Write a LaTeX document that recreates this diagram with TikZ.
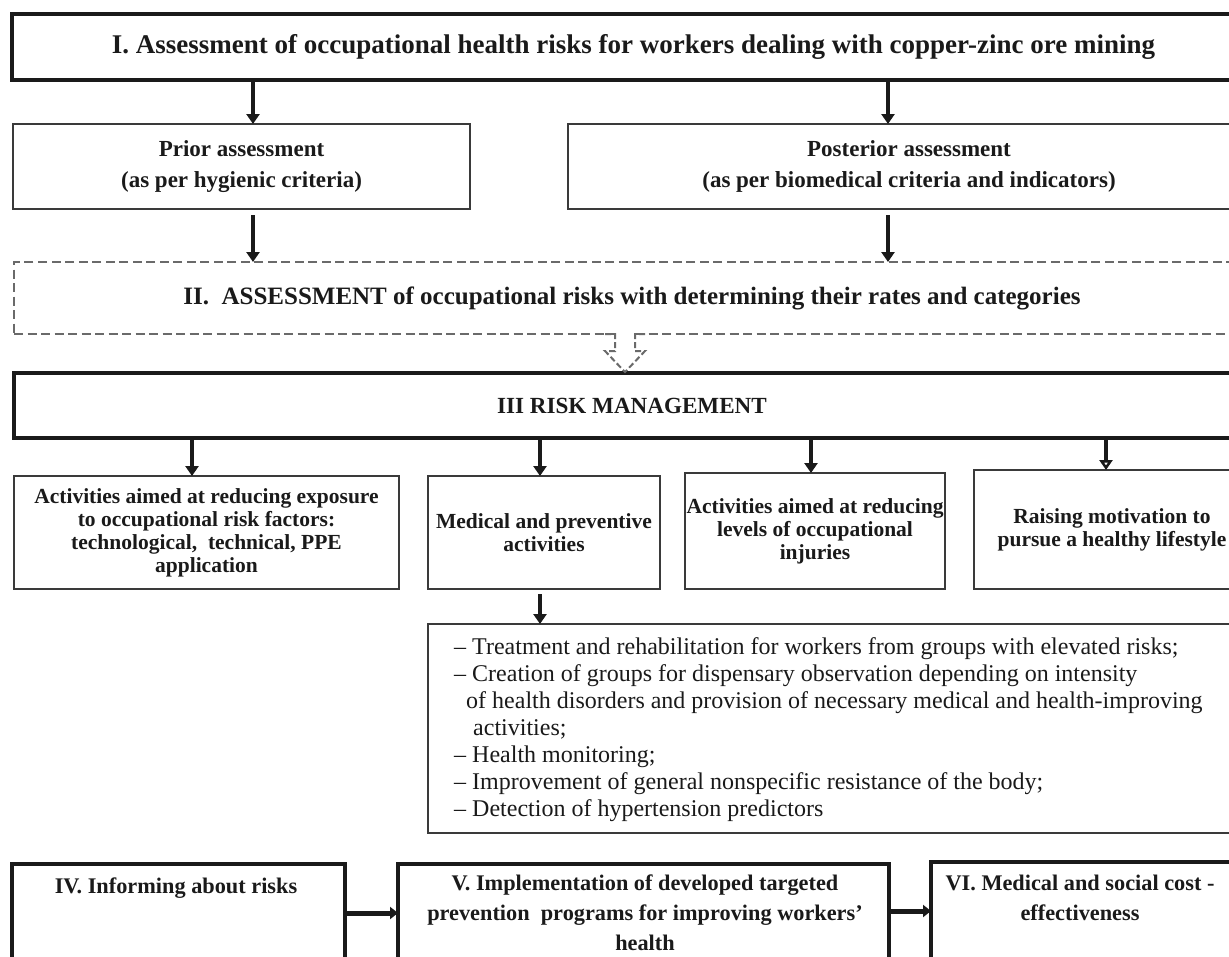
\documentclass[tikz,border=0pt]{standalone}
\usepackage{fontspec}
\setmainfont{Liberation Serif}
\usetikzlibrary{arrows.meta,calc}
\definecolor{ink}{HTML}{1A1A1A}
\definecolor{edge}{HTML}{3A3A3A}
\definecolor{dashc}{HTML}{6A6A6A}
\tikzset{
  heavy/.style={draw=ink, line width=3.6pt, fill=white, inner sep=0pt, outer sep=0pt, anchor=north west, align=center, text=ink},
  light/.style={draw=edge, line width=1.4pt, fill=white, inner sep=0pt, outer sep=0pt, anchor=north west, align=center, text=ink},
  dbox/.style={draw=dashc, line width=2pt, dash pattern=on 9pt off 4.5pt, fill=white, inner sep=0pt, outer sep=0pt, anchor=north west, align=center, text=ink},
  arr/.style={draw=ink, line width=3.2pt, -{Triangle[width=13pt,length=10pt]}},
  openarr/.style={draw=ink, line width=3.2pt, -{Triangle[open,width=13pt,length=10pt,fill=white]}},
  harr/.style={draw=ink, line width=5pt, -{Triangle[width=12pt,length=8pt]}},
  hollow/.style={draw=dashc, line width=2pt, dash pattern=on 6pt off 3pt, line join=miter},
  ftitle/.style={font=\bfseries\fontsize{27}{30}\selectfont},
  fsub/.style={font=\bfseries\fontsize{23}{31}\selectfont},
  fmid/.style={font=\bfseries\fontsize{25}{28}\selectfont},
  fman/.style={font=\bfseries\fontsize{23.1}{26}\selectfont},
  frow/.style={font=\bfseries\fontsize{21.5}{23}\selectfont},
  fbot/.style={font=\bfseries\fontsize{22.3}{30}\selectfont},
  flist/.style={font=\fontsize{24}{27}\selectfont},
}
\begin{document}
\begin{tikzpicture}[x=1pt,y=-1pt]
\useasboundingbox (0,0) rectangle (1229,956);
\clip (0,0) rectangle (1229,956);
\fill[white] (0,0) rectangle (1229,956);

% boxes
\node[heavy, ftitle, minimum width=1243pt, minimum height=66pt] (T) at (12,14)
  {I. Assessment of occupational health risks for workers dealing with copper-zinc ore mining};
\node[light, fsub, minimum width=457pt, minimum height=85pt] (P) at (13,124)
  {Prior assessment\\(as per hygienic criteria)};
\node[light, fsub, minimum width=682pt, minimum height=85pt] (Q) at (568,124)
  {Posterior assessment\\(as per biomedical criteria and indicators)};
\node[dbox, fmid, minimum width=1236pt, minimum height=72pt] (D) at (14,262)
  {II.\ \ ASSESSMENT of occupational risks with determining their rates and categories};
\node[heavy, fman, minimum width=1236pt, minimum height=65pt] (R) at (14,373)
  {III RISK MANAGEMENT};
\node[light, frow, minimum width=385pt, minimum height=113pt] (A) at (14,476)
  {Activities aimed at reducing exposure\\to occupational risk factors:\\technological,\ \ technical, PPE\\application};
\node[light, frow, minimum width=232pt, minimum height=113pt] (B) at (428,476)
  {Medical and preventive\\activities};
\node[light, frow, minimum width=260pt, minimum height=116pt] (C) at (685,473)
  {Activities aimed at reducing\\levels of occupational\\injuries};
\node[light, frow, minimum width=276pt, minimum height=119pt] (E) at (974,470)
  {Raising motivation to\\pursue a healthy lifestyle};
\node[light, minimum width=822pt, minimum height=209pt] (L) at (428,624) {};
\node[anchor=north west, inner sep=0pt, align=left, text=ink, flist] (Lt) at (454,637.5)
  {– Treatment and rehabilitation for workers from groups with elevated risks;\\
   – Creation of groups for dispensary observation depending on intensity\\
   \hspace*{12pt}of health disorders and provision of necessary medical and health-improving\\
   \hspace*{19pt}activities;\\
   – Health monitoring;\\
   – Improvement of general nonspecific resistance of the body;\\
   – Detection of hypertension predictors};
\node[heavy, minimum width=333pt, minimum height=136pt] (IV) at (12,864) {};
\node[heavy, minimum width=491pt, minimum height=136pt] (V) at (398,864) {};
\node[heavy, minimum width=319pt, minimum height=138pt] (VI) at (931,862) {};
\node[fbot, text=ink, align=center] (IVt) at (176,888) {IV. Informing about risks};
\node[fbot, text=ink, align=center] (Vt) at (645,913)
  {V. Implementation of developed targeted\\prevention\ \ programs for improving workers’\\health};
\node[fbot, text=ink, align=center] (VIt) at (1080,898) {VI. Medical and social cost -\\effectiveness};

% arrow positions
\coordinate (x1) at (253,0);
\coordinate (x2) at (888,0);
\coordinate (xh) at (625,0);
\coordinate (xa) at (192,0);
\coordinate (xb) at (540,0);
\coordinate (xc) at (811,0);
\coordinate (xe) at (1106,0);
\coordinate (yb1) at (0,913);
\coordinate (yb2) at (0,911);

\draw[arr] (T.south -| x1) -- (P.north -| x1);
\draw[arr] (T.south -| x2) -- (Q.north -| x2);
\draw[arr] ($(P.south -| x1)+(0,6)$) -- (D.north -| x1);
\draw[arr] ($(Q.south -| x2)+(0,6)$) -- (D.north -| x2);

\coordinate (hb) at (D.south -| xh);
\fill[white] ($(hb)+(-9,-2)$) rectangle ($(hb)+(9,2)$);
\draw[hollow] ($(hb)+(-20,0)$) -- ++(10,0) -- ++(0,17) -- ++(-10,0) -- ($(R.north -| xh)+(0,-1)$)
  -- ($(hb)+(20,17)$) -- ++(-10,0) -- ++(0,-17) -- ++(10,0);

\draw[arr] (R.south -| xa) -- (A.north -| xa);
\draw[arr] (R.south -| xb) -- (B.north -| xb);
\draw[arr] (R.south -| xc) -- (C.north -| xc);
\draw[openarr] (R.south -| xe) -- (E.north -| xe);
\draw[arr] ($(B.south -| xb)+(0,5)$) -- (L.north -| xb);

\draw[harr] (IV.east |- yb1) -- (V.west |- yb1);
\draw[harr] (V.east |- yb2) -- (VI.west |- yb2);
\end{tikzpicture}
\end{document}
